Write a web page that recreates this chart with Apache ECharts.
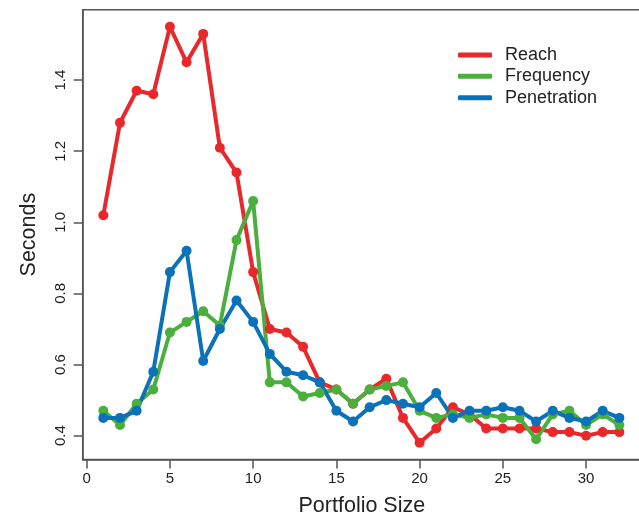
<!DOCTYPE html>
<html>
<head>
<meta charset="utf-8">
<script src="https://cdn.jsdelivr.net/npm/echarts@6/dist/echarts.min.js"></script>
<style>html,body{margin:0;padding:0;background:#fff;}#c{width:639px;height:514px;}</style>
</head>
<body>
<div id="c"></div>
<script>
var portfolioSize = [1,2,3,4,5,6,7,8,9,10,11,12,13,14,15,16,17,18,19,20,21,22,23,24,25,26,27,28,29,30,31,32];
var reach = [1.02,1.28,1.37,1.36,1.55,1.45,1.53,1.21,1.14,0.86,0.70,0.69,0.65,0.55,0.53,0.49,0.53,0.56,0.45,0.38,0.42,0.48,0.46,0.42,0.42,0.42,0.42,0.41,0.41,0.40,0.41,0.41];
var frequency = [0.47,0.43,0.49,0.53,0.69,0.72,0.75,0.71,0.95,1.06,0.55,0.55,0.51,0.52,0.53,0.49,0.53,0.54,0.55,0.47,0.45,0.46,0.45,0.46,0.45,0.45,0.39,0.46,0.47,0.43,0.46,0.43];
var penetration = [0.45,0.45,0.47,0.58,0.86,0.92,0.61,0.70,0.78,0.72,0.63,0.58,0.57,0.55,0.47,0.44,0.48,0.50,0.49,0.48,0.52,0.45,0.47,0.47,0.48,0.47,0.44,0.47,0.45,0.44,0.47,0.45];
var xTicks = [0,5,10,15,20,25,30];
var yTicks = [0.4,0.6,0.8,1.0,1.2,1.4];

var FONT = 'Liberation Sans, Arial, Helvetica, sans-serif';
var AXC = '#555';
function pairs(ys){ return portfolioSize.map(function(x,i){ return [x, ys[i]]; }); }
function mk(name, data, color){
  return {
    name: name, type: 'line', data: pairs(data),
    symbol: 'circle', symbolSize: 10, showSymbol: true,
    lineStyle: {width: 4, color: color, cap: 'round', join: 'round'},
    itemStyle: {color: color, borderWidth: 0},
    emphasis: {disabled: true}, animation: false
  };
}
var chart = echarts.init(document.getElementById('c'), null, {renderer: 'canvas'});
chart.setOption({
  animation: false,
  backgroundColor: '#fff',
  grid: {left: 82.7, top: 9.7, width: 558.3, height: 449.8, show: true, borderColor: AXC, borderWidth: 1.5,
    containLabel: false, outerBoundsMode: 'none'},
  xAxis: {
    type: 'value', min: -0.24, max: 33.3,
    name: 'Portfolio Size', nameLocation: 'middle', nameGap: 36,
    nameTextStyle: {fontFamily: FONT, fontSize: 21.5, color: '#222'},
    axisLine: {show: true, onZero: false, lineStyle: {color: AXC, width: 1.5}},
    axisTick: {show: true, length: 9, inside: false, customValues: xTicks, lineStyle: {color: AXC, width: 1.5}},
    axisLabel: {customValues: xTicks, fontFamily: FONT, fontSize: 15, color: '#222', margin: 12},
    splitLine: {show: false}
  },
  yAxis: {
    type: 'value', min: 0.333, max: 1.598,
    name: 'Seconds', nameLocation: 'middle', nameGap: 43, nameRotate: 90,
    nameTextStyle: {fontFamily: FONT, fontSize: 21.5, color: '#222'},
    axisLine: {show: true, onZero: false, lineStyle: {color: AXC, width: 1.5}},
    axisTick: {show: true, length: 9, inside: false, customValues: yTicks, lineStyle: {color: AXC, width: 1.5}},
    axisLabel: {customValues: yTicks, rotate: 90, fontFamily: FONT, fontSize: 15, color: '#222', margin: 14,
      formatter: function(v){ return Number(v).toFixed(1); }},
    splitLine: {show: false}
  },
  legend: {
    orient: 'vertical', left: 458, top: 44.2, padding: 0, itemGap: 0,
    itemWidth: 34, itemHeight: 5, icon: 'roundRect',
    textStyle: {fontFamily: FONT, fontSize: 18, color: '#222', lineHeight: 21.4, padding: [0,0,0,8]},
    data: ['Reach','Frequency','Penetration'],
    selectedMode: false
  },
  series: [
    mk('Reach', reach, '#e8282b'),
    mk('Frequency', frequency, '#4aaf3c'),
    mk('Penetration', penetration, '#0a72b9')
  ]
});
</script>
</body>
</html>
